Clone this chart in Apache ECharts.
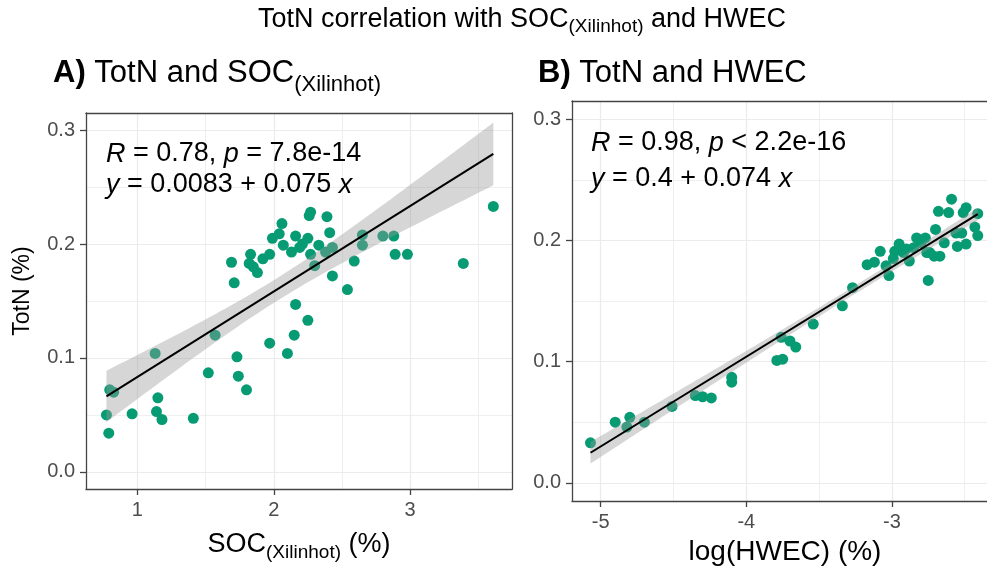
<!DOCTYPE html>
<html><head><meta charset="utf-8">
<script src="https://cdn.jsdelivr.net/npm/echarts@6/dist/echarts.min.js"></script>
<style>html,body{margin:0;padding:0;background:#fff}#c{width:987px;height:570px}</style>
</head><body><div id="c"></div>
<script>
// ---- data ----
const socX = [0.79,0.773,0.797,0.826,0.961,1.13,1.15,1.14,1.18,1.41,1.52,1.57,1.73,1.74,1.80,1.69,1.71,1.97,2.10,2.15,2.25,2.16,2.43,2.54,2.59,2.65,2.65,2.80,2.88,2.89,2.98,3.39,3.61,1.83,1.82,1.88,1.85,1.92,1.97,1.99,2.06,2.04,2.07,2.13,2.16,2.19,2.26,2.27,2.25,2.27,2.30,2.39,2.41,2.38,2.43,2.33,2.21];
const socTotN = [0.034,0.050,0.072,0.070,0.051,0.104,0.065,0.053,0.046,0.047,0.087,0.120,0.101,0.084,0.072,0.184,0.166,0.113,0.104,0.120,0.133,0.147,0.172,0.160,0.185,0.208,0.199,0.207,0.207,0.191,0.191,0.183,0.233,0.191,0.183,0.175,0.180,0.187,0.191,0.205,0.218,0.209,0.199,0.193,0.207,0.197,0.225,0.228,0.205,0.191,0.181,0.224,0.210,0.193,0.197,0.199,0.200];
const hwecX = [-5.07,-4.90,-4.80,-4.82,-4.70,-4.51,-4.35,-4.30,-4.24,-4.10,-4.10,-3.79,-3.75,-3.76,-3.70,-3.66,-3.54,-3.34,-3.27,-3.17,-3.12,-3.08,-3.04,-3.02,-2.98,-2.95,-2.92,-2.88,-2.85,-2.80,-2.77,-2.75,-2.74,-2.70,-2.68,-2.67,-2.64,-2.61,-2.59,-2.56,-2.55,-2.52,-2.49,-2.49,-2.51,-2.43,-2.41,-2.41,-2.83,-2.76,-2.71,-2.99,-2.90];
const hwecTotN = [0.033,0.050,0.054,0.046,0.050,0.063,0.072,0.071,0.070,0.087,0.083,0.101,0.102,0.120,0.117,0.112,0.131,0.146,0.161,0.180,0.182,0.191,0.179,0.171,0.191,0.197,0.190,0.183,0.194,0.198,0.202,0.167,0.190,0.209,0.224,0.187,0.198,0.223,0.234,0.206,0.195,0.206,0.227,0.197,0.223,0.211,0.204,0.222,0.202,0.190,0.187,0.185,0.193];
const socTicks = [1, 2, 3];
const socMinor = [1.5, 2.5, 3.5];
const hwecTicks = [-5, -4, -3];
const hwecMinor = [-4.5, -3.5, -2.5];
const totnTicks = [0, 0.1, 0.2, 0.3];
const totnMinor = [0.05, 0.15, 0.25];
const fitSOC = [0.0083, 0.075];   // intercept, slope (from the label)
const fitHWEC = [0.4, 0.074];

// ---- helpers ----
const FONT = 'Liberation Sans, Arial, sans-serif';
function smoothBand(xs, ys, coef, steps) {
  const n = xs.length, a = coef[0], b = coef[1];
  const xbar = xs.reduce((s, v) => s + v, 0) / n;
  let sxx = 0, sse = 0;
  for (let i = 0; i < n; i++) { sxx += (xs[i] - xbar) ** 2; sse += (ys[i] - (a + b * xs[i])) ** 2; }
  const s = Math.sqrt(sse / (n - 2)), t = 2.0;
  const xmin = Math.min(...xs), xmax = Math.max(...xs);
  const out = [];
  for (let i = 0; i <= steps; i++) {
    const x = xmin + (xmax - xmin) * i / steps;
    const yh = a + b * x;
    const se = s * Math.sqrt(1 / n + (x - xbar) ** 2 / sxx);
    out.push([x, yh - t * se, yh + t * se]);
  }
  return out;
}
function pairs(xs, ys) { return xs.map((x, i) => [x, ys[i]]); }
function fitLine(xs, coef) {
  const xmin = Math.min(...xs), xmax = Math.max(...xs);
  return [[xmin, coef[0] + coef[1] * xmin], [xmax, coef[0] + coef[1] * xmax]];
}
const bandA = smoothBand(socX, socTotN, fitSOC, 80);
const bandB = smoothBand(hwecX, hwecTotN, fitHWEC, 80);

function bandSeries(band, idx) {
  return {
    type: 'custom', xAxisIndex: idx * 2, yAxisIndex: idx * 2, silent: true, z: 3,
    data: band, encode: { x: 0, y: [1, 2] },
    renderItem: (params, api) => {
      if (params.dataIndex !== 0) return null;
      const pts = [];
      band.forEach(d => pts.push(api.coord([d[0], d[2]])));
      for (let i = band.length - 1; i >= 0; i--) pts.push(api.coord([band[i][0], band[i][1]]));
      return { type: 'polygon', shape: { points: pts }, style: { fill: 'rgba(153,153,153,0.4)' } };
    }
  };
}
const GRID = '#EBEBEB', BORDER = '#444';
function mainX(grid, min, max, ticks) {
  return {
    type: 'value', gridIndex: grid, min, max, position: 'bottom',
    axisLine: { show: true, onZero: false, lineStyle: { color: BORDER, width: 1.3 } },
    axisTick: { show: true, length: 6, customValues: ticks, lineStyle: { color: BORDER, width: 1.3 } },
    axisLabel: { customValues: ticks, margin: 11, color: '#4D4D4D', fontSize: 20, fontFamily: FONT, formatter: v => String(v) },
    splitLine: { show: true, lineStyle: { color: GRID, width: 1.2 } }
  };
}
function sideX(grid, min, max, minor) {
  return {
    type: 'value', gridIndex: grid, min, max, position: 'top',
    axisLine: { show: true, onZero: false, lineStyle: { color: BORDER, width: 1.3 } },
    axisTick: { show: false, customValues: minor }, axisLabel: { show: false },
    splitLine: { show: true, lineStyle: { color: GRID, width: 0.8 } }
  };
}
function mainY(grid) {
  return {
    type: 'value', gridIndex: grid, min: -0.015, max: 0.315, position: 'left',
    axisLine: { show: true, onZero: false, lineStyle: { color: BORDER, width: 1.3 } },
    axisTick: { show: true, length: 6, customValues: totnTicks, lineStyle: { color: BORDER, width: 1.3 } },
    axisLabel: { customValues: totnTicks, margin: 11, color: '#4D4D4D', fontSize: 20, fontFamily: FONT, formatter: v => v.toFixed(1) },
    splitLine: { show: true, lineStyle: { color: GRID, width: 1.2 } }
  };
}
function sideY(grid) {
  return {
    type: 'value', gridIndex: grid, min: -0.015, max: 0.315, position: 'right',
    axisLine: { show: true, onZero: false, lineStyle: { color: BORDER, width: 1.3 } },
    axisTick: { show: false, customValues: totnMinor }, axisLabel: { show: false },
    splitLine: { show: true, lineStyle: { color: GRID, width: 0.8 } }
  };
}
function txt(x, y, text, rich, align, extra) {
  return Object.assign({
    type: 'text', x, y, silent: true, z: 100,
    style: { text, rich, fontFamily: FONT, fontSize: 27, fill: '#000', align: align || 'left', verticalAlign: 'middle' }
  }, extra || {});
}
const R = (size, o) => Object.assign({ fontSize: size, fontFamily: FONT, fill: '#000', verticalAlign: 'middle' }, o || {});

const chart = echarts.init(document.getElementById('c'), null, { renderer: 'canvas' });
chart.setOption({
  animation: false,
  backgroundColor: '#fff',
  grid: [
    { left: 86, top: 113, width: 426, height: 376, containLabel: false, outerBoundsMode: 'none' },
    { left: 572, top: 101, width: 426, height: 400, containLabel: false, outerBoundsMode: 'none' }
  ],
  xAxis: [
    mainX(0, 0.623, 3.747, socTicks), sideX(0, 0.623, 3.747, socMinor),
    mainX(1, -5.197, -2.271, hwecTicks), sideX(1, -5.197, -2.271, hwecMinor)
  ],
  yAxis: [mainY(0), sideY(0), mainY(1), sideY(1)],
  series: [
    { type: 'scatter', xAxisIndex: 0, yAxisIndex: 0, data: pairs(socX, socTotN), symbolSize: 11, itemStyle: { color: '#079b73', opacity: 1 }, z: 2 },
    bandSeries(bandA, 0),
    { type: 'line', xAxisIndex: 0, yAxisIndex: 0, data: fitLine(socX, fitSOC), symbol: 'none', lineStyle: { color: '#000', width: 2 }, z: 4 },
    { type: 'scatter', xAxisIndex: 2, yAxisIndex: 2, data: pairs(hwecX, hwecTotN), symbolSize: 11, itemStyle: { color: '#079b73', opacity: 1 }, z: 2 },
    bandSeries(bandB, 1),
    { type: 'line', xAxisIndex: 2, yAxisIndex: 2, data: fitLine(hwecX, fitHWEC), symbol: 'none', lineStyle: { color: '#000', width: 2 }, z: 4 }
  ],
  graphic: [
    txt(522, 20, '{m|TotN correlation with SOC}{s|(Xilinhot)}{m| and HWEC}', { m: R(27), s: R(19, { padding: [14, 0, 0, 0] }) }, 'center'),
    txt(53, 73, '{b|A)}{m| TotN and SOC}{s|(Xilinhot)}', { b: R(31, { fontWeight: 'bold' }), m: R(31), s: R(22, { padding: [24, 0, 0, 0] }) }),
    txt(538, 73, '{b|B)}{m| TotN and HWEC}', { b: R(31, { fontWeight: 'bold' }), m: R(31) }),
    txt(106, 154, '{i|R}{m| = 0.78, }{i|p}{m| = 7.8e-14}', { i: R(27, { fontStyle: 'italic' }), m: R(27) }),
    txt(106, 185, '{i|y}{m| = 0.0083 + 0.075 }{i|x}', { i: R(27, { fontStyle: 'italic' }), m: R(27) }),
    txt(591, 143, '{i|R}{m| = 0.98, }{i|p}{m| < 2.2e-16}', { i: R(27, { fontStyle: 'italic' }), m: R(27) }),
    txt(591, 179, '{i|y}{m| = 0.4 + 0.074 }{i|x}', { i: R(27, { fontStyle: 'italic' }), m: R(27) }),
    txt(299, 545, '{m|SOC}{s|(Xilinhot)}{m| (%)}', { m: R(27), s: R(19, { padding: [16, 0, 0, 0] }) }, 'center'),
    txt(785, 552, '{m|log(HWEC) (%)}', { m: R(28) }, 'center'),
    txt(23, 291, '{m|TotN (%)}', { m: R(23) }, 'center', { rotation: Math.PI / 2 })
  ]
});
</script>
</body></html>
